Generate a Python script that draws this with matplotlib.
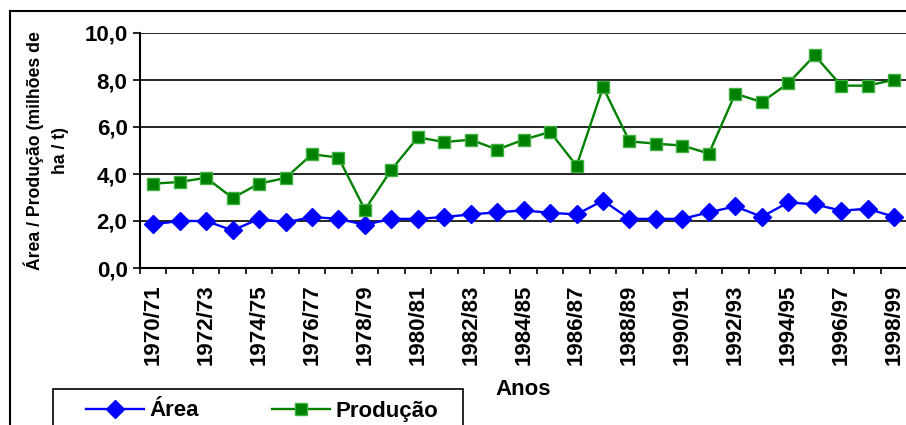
import numpy as np
import matplotlib
matplotlib.use('Agg')
import matplotlib.pyplot as plt
from matplotlib.ticker import FuncFormatter, FixedLocator
from matplotlib.lines import Line2D
from matplotlib.patches import Rectangle

plt.rcParams['font.family'] = ['Liberation Sans', 'DejaVu Sans']
plt.rcParams['font.weight'] = 'bold'

# safras 1970/71 .. 1998/99
anos = [f"{a}/{(a + 1) % 100:02d}" for a in range(1970, 1999)]

area = [1.86, 2.00, 2.00, 1.60, 2.09, 1.94, 2.17, 2.09, 1.84, 2.09,
        2.09, 2.17, 2.28, 2.37, 2.45, 2.35, 2.28, 2.87, 2.09, 2.09,
        2.09, 2.37, 2.62, 2.18, 2.79, 2.71, 2.44, 2.52, 2.18]

producao = [3.59, 3.66, 3.84, 2.98, 3.59, 3.83, 4.84, 4.70, 2.48, 4.18,
            5.56, 5.36, 5.46, 5.04, 5.46, 5.79, 4.35, 7.69, 5.39, 5.29,
            5.21, 4.87, 7.42, 7.06, 7.86, 9.05, 7.76, 7.76, 8.01]

W, H = 906, 425
fig = plt.figure(figsize=(W / 100, H / 100), dpi=100)
ax = fig.add_axes([140 / W, 1 - 268 / H, 766 / W, 235 / H])

x = np.arange(len(anos))
ax.plot(x, area, color='#0000FF', lw=1.7, marker='D', ms=9,
        mfc='#0000FF', mec='#0000FF', label='Área', zorder=3)
ax.plot(x, producao, color='#008000', lw=1.7, marker='s', ms=8.5,
        mfc='#008000', mec='#40B040', mew=1.0, label='Produção', zorder=3)

ax.set_xlim(-0.5, 28.45)
ax.set_ylim(0, 10)

# eixo y
ax.set_yticks(np.arange(0, 10.1, 2))
ax.yaxis.set_major_formatter(FuncFormatter(lambda v, p: f"{v:.1f}".replace('.', ',')))
ax.tick_params(axis='y', direction='out', length=5, width=1.2, labelsize=16, pad=4)
ax.yaxis.grid(True, color='black', lw=1.2)
ax.set_axisbelow(True)

# eixo x: rótulos a cada 2 safras, marcas entre categorias
ax.set_xticks(x[::2])
ax.set_xticklabels(anos[::2], rotation=90, fontsize=16, fontweight='bold')
ax.xaxis.set_minor_locator(FixedLocator(np.arange(-0.5, 28.6, 1)))
ax.tick_params(axis='x', which='major', length=0, pad=12)
ax.tick_params(axis='x', which='minor', direction='out', length=4, width=1.2)

for s in ['top', 'right']:
    ax.spines[s].set_visible(False)
for s in ['left', 'bottom']:
    ax.spines[s].set_linewidth(1.5)

ax.set_xlabel('Anos', fontsize=16, fontweight='bold')
ax.xaxis.set_label_coords(0.5, -0.472)
ax.set_ylabel('Área / Produção (milhões de\nha / t)', fontsize=12.7,
              fontweight='bold', multialignment='center', va='center',
              linespacing=1.6)
ax.yaxis.set_label_coords(-0.122, 0.5)

# legenda (caixa cortada na borda inferior, como no original)
fig.add_artist(Rectangle((53 / W, -0.05), 410 / W, 1 - 389 / H + 0.05,
                         transform=fig.transFigure, fill=False,
                         edgecolor='black', lw=1.2))
leg = fig.legend(loc='center left', ncol=2,
                 bbox_to_anchor=(86 / W, 1 - 411 / H),
                 fontsize=16, frameon=False,
                 handlelength=2.6, handletextpad=0.25, columnspacing=3.3,
                 borderpad=0, borderaxespad=0)

# moldura externa do gráfico
fig.add_artist(Line2D([10 / W, 1], [1 - 11 / H, 1 - 11 / H], color='black', lw=1.5,
                      transform=fig.transFigure))
fig.add_artist(Line2D([10 / W, 10 / W], [0, 1 - 11 / H], color='black', lw=1.5,
                      transform=fig.transFigure))

fig.savefig('out.png', dpi=100)
